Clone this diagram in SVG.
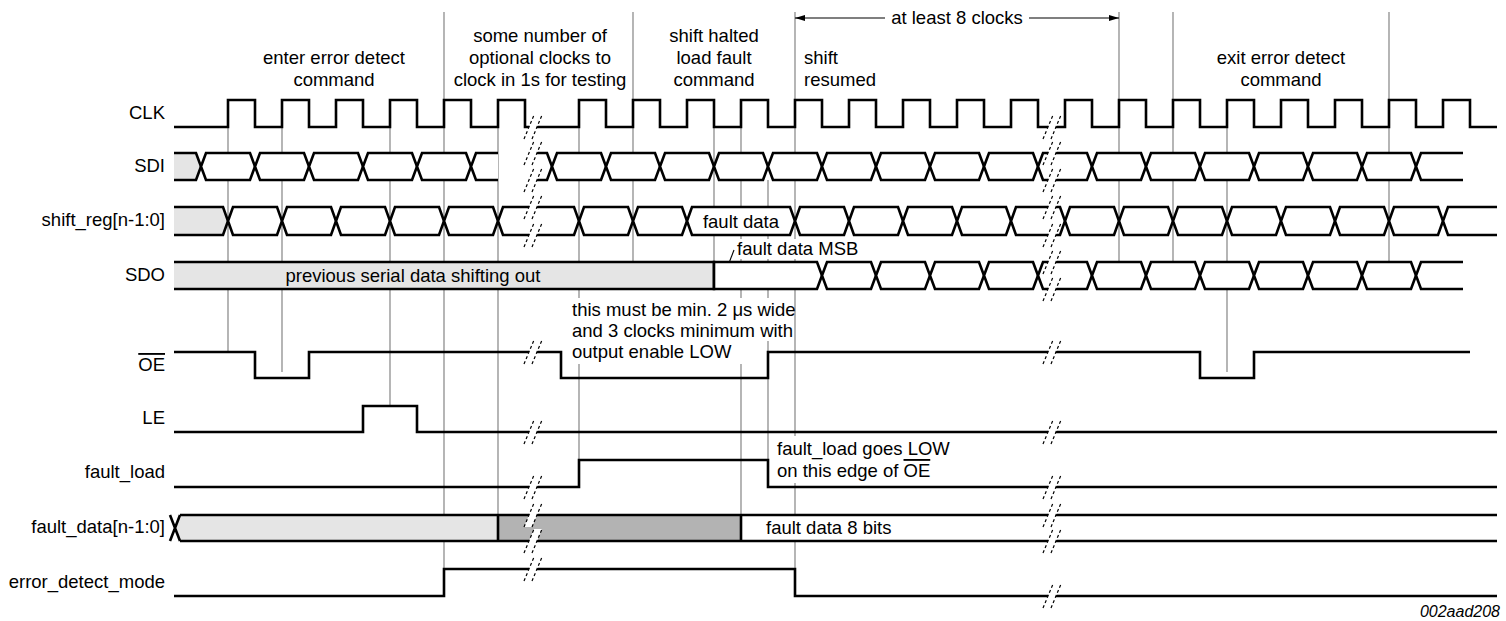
<svg xmlns="http://www.w3.org/2000/svg" width="1506" height="621" viewBox="0 0 1506 621">
<style>
text{font-family:"Liberation Sans",Arial,sans-serif;font-size:18.5px;fill:#000}
.lbl{text-anchor:end}
.mid{text-anchor:middle}
.w{fill:none;stroke:#000;stroke-width:2.6;stroke-linejoin:miter}
.hx{fill:#fff;stroke:#000;stroke-width:2.6}
.gr{fill:#e5e5e5;stroke:#000;stroke-width:2.6}
.g{stroke:#7a7a7a;stroke-width:1.1;fill:none}
.dash{stroke:#000;stroke-width:1.2;stroke-dasharray:3 2.5;fill:none}
.bg{fill:#fff}
</style>
<defs>
<g id="brk">
<polygon points="-9,12 -1,12 9,-12 1,-12" fill="#fff"/>
<line x1="-9" y1="12" x2="1" y2="-12" class="dash"/>
<line x1="-1" y1="12" x2="9" y2="-12" class="dash"/>
</g>
<marker id="ah" viewBox="0 0 10 6" refX="10" refY="3" markerWidth="10" markerHeight="6" markerUnits="userSpaceOnUse" orient="auto">
<path d="M0,0 L10,3 L0,6 Z" fill="#000"/>
</marker>
</defs>

<g id="connectors">
<path class="g" d="M228,127V352 M282,127V372 M390,127V406 M444,12V569 M498,127V515 M579,127V460 M633,12V262 M714,127V289 M741,127V515 M768,180V460 M795,12V596 M1119,12V262 M1173,12V262 M1227,127V372 M1389,12V262"/>
<path d="M885,18H795" stroke="#000" stroke-width="1.2" marker-end="url(#ah)"/>
<path d="M1029,18H1119" stroke="#000" stroke-width="1.2" marker-end="url(#ah)"/>
<path d="M734,250L724,276" stroke="#000" stroke-width="1.1"/>
</g>

<g id="sig-CLK">
<text class="lbl" x="165" y="119">CLK</text>
<path class="w" d="M174,127H228V100H255V127H282V100H309V127H336V100H363V127H390V100H417V127H444V100H471V127H498V100H525V127H579V100H606V127H633V100H660V127H687V100H714V127H741V100H768V127H795V100H822V127H849V100H876V127H903V100H930V127H957V100H984V127H1011V100H1038V127H1065V100H1092V127H1119V100H1146V127H1173V100H1200V127H1227V100H1254V127H1281V100H1308V127H1335V100H1362V127H1389V100H1416V127H1443V100H1470V127H1497"/>
</g>

<g id="sig-SDI">
<text class="lbl" x="165" y="172">SDI</text>
<path class="gr" d="M174,153H196L201,166.5L196,180H174"/>
<polygon class="hx" points="201,166.5 206,153 250,153 255,166.5 250,180 206,180"/>
<polygon class="hx" points="255,166.5 260,153 304,153 309,166.5 304,180 260,180"/>
<polygon class="hx" points="309,166.5 314,153 358,153 363,166.5 358,180 314,180"/>
<polygon class="hx" points="363,166.5 368,153 412,153 417,166.5 412,180 368,180"/>
<polygon class="hx" points="417,166.5 422,153 466,153 471,166.5 466,180 422,180"/>
<path class="hx" d="M498,153H476L471,166.5L476,180H498"/>
<path class="hx" d="M537,153H547L552,166.5L547,180H537"/>
<polygon class="hx" points="552,166.5 557,153 601,153 606,166.5 601,180 557,180"/>
<polygon class="hx" points="606,166.5 611,153 655,153 660,166.5 655,180 611,180"/>
<polygon class="hx" points="660,166.5 665,153 709,153 714,166.5 709,180 665,180"/>
<polygon class="hx" points="714,166.5 719,153 763,153 768,166.5 763,180 719,180"/>
<polygon class="hx" points="768,166.5 773,153 817,153 822,166.5 817,180 773,180"/>
<polygon class="hx" points="822,166.5 827,153 871,153 876,166.5 871,180 827,180"/>
<polygon class="hx" points="876,166.5 881,153 925,153 930,166.5 925,180 881,180"/>
<polygon class="hx" points="930,166.5 935,153 979,153 984,166.5 979,180 935,180"/>
<polygon class="hx" points="984,166.5 989,153 1033,153 1038,166.5 1033,180 989,180"/>
<polygon class="hx" points="1038,166.5 1043,153 1087,153 1092,166.5 1087,180 1043,180"/>
<polygon class="hx" points="1092,166.5 1097,153 1141,153 1146,166.5 1141,180 1097,180"/>
<polygon class="hx" points="1146,166.5 1151,153 1195,153 1200,166.5 1195,180 1151,180"/>
<polygon class="hx" points="1200,166.5 1205,153 1249,153 1254,166.5 1249,180 1205,180"/>
<polygon class="hx" points="1254,166.5 1259,153 1303,153 1308,166.5 1303,180 1259,180"/>
<polygon class="hx" points="1308,166.5 1313,153 1357,153 1362,166.5 1357,180 1313,180"/>
<polygon class="hx" points="1362,166.5 1367,153 1411,153 1416,166.5 1411,180 1367,180"/>
<path class="hx" d="M1463,153H1421L1416,166.5L1421,180H1463"/>
</g>

<g id="sig-shift_reg">
<text class="lbl" x="165" y="226">shift_reg[n-1:0]</text>
<path class="gr" d="M174,207H223L228,221L223,235H174"/>
<polygon class="hx" points="228,221 233,207 277,207 282,221 277,235 233,235"/>
<polygon class="hx" points="282,221 287,207 331,207 336,221 331,235 287,235"/>
<polygon class="hx" points="336,221 341,207 385,207 390,221 385,235 341,235"/>
<polygon class="hx" points="390,221 395,207 439,207 444,221 439,235 395,235"/>
<polygon class="hx" points="444,221 449,207 493,207 498,221 493,235 449,235"/>
<polygon class="hx" points="498,221 503,207 574,207 579,221 574,235 503,235"/>
<polygon class="hx" points="579,221 584,207 628,207 633,221 628,235 584,235"/>
<polygon class="hx" points="633,221 638,207 682,207 687,221 682,235 638,235"/>
<polygon class="hx" points="687,221 692,207 790,207 795,221 790,235 692,235"/>
<polygon class="hx" points="795,221 800,207 844,207 849,221 844,235 800,235"/>
<polygon class="hx" points="849,221 854,207 898,207 903,221 898,235 854,235"/>
<polygon class="hx" points="903,221 908,207 952,207 957,221 952,235 908,235"/>
<polygon class="hx" points="957,221 962,207 1006,207 1011,221 1006,235 962,235"/>
<polygon class="hx" points="1011,221 1016,207 1060,207 1065,221 1060,235 1016,235"/>
<polygon class="hx" points="1065,221 1070,207 1114,207 1119,221 1114,235 1070,235"/>
<polygon class="hx" points="1119,221 1124,207 1168,207 1173,221 1168,235 1124,235"/>
<polygon class="hx" points="1173,221 1178,207 1222,207 1227,221 1222,235 1178,235"/>
<polygon class="hx" points="1227,221 1232,207 1276,207 1281,221 1276,235 1232,235"/>
<polygon class="hx" points="1281,221 1286,207 1330,207 1335,221 1330,235 1286,235"/>
<polygon class="hx" points="1335,221 1340,207 1384,207 1389,221 1384,235 1340,235"/>
<polygon class="hx" points="1389,221 1394,207 1438,207 1443,221 1438,235 1394,235"/>
<path class="hx" d="M1497,207H1448L1443,221L1448,235H1497"/>
<text class="mid" x="741" y="228">fault data</text>
</g>

<g id="sig-SDO">
<text class="lbl" x="165" y="281">SDO</text>
<path class="gr" d="M174,262H714V289H174"/>
<path class="hx" d="M714,262H817L822,275.5L817,289H714Z"/>
<polygon class="hx" points="822,275.5 827,262 871,262 876,275.5 871,289 827,289"/>
<polygon class="hx" points="876,275.5 881,262 925,262 930,275.5 925,289 881,289"/>
<polygon class="hx" points="930,275.5 935,262 979,262 984,275.5 979,289 935,289"/>
<polygon class="hx" points="984,275.5 989,262 1033,262 1038,275.5 1033,289 989,289"/>
<polygon class="hx" points="1038,275.5 1043,262 1087,262 1092,275.5 1087,289 1043,289"/>
<polygon class="hx" points="1092,275.5 1097,262 1141,262 1146,275.5 1141,289 1097,289"/>
<polygon class="hx" points="1146,275.5 1151,262 1195,262 1200,275.5 1195,289 1151,289"/>
<polygon class="hx" points="1200,275.5 1205,262 1249,262 1254,275.5 1249,289 1205,289"/>
<polygon class="hx" points="1254,275.5 1259,262 1303,262 1308,275.5 1303,289 1259,289"/>
<polygon class="hx" points="1308,275.5 1313,262 1357,262 1362,275.5 1357,289 1313,289"/>
<polygon class="hx" points="1362,275.5 1367,262 1411,262 1416,275.5 1411,289 1367,289"/>
<path class="hx" d="M1463,262H1421L1416,275.5L1421,289H1463"/>
<text class="mid" x="413" y="282">previous serial data shifting out</text>
</g>

<g id="note-msb">
<rect class="bg" x="736" y="239" width="112" height="20"/>
<text x="737" y="255">fault data MSB</text>
</g>

<g id="sig-OE">
<text class="lbl" x="165" y="371" style="text-decoration:overline">OE</text>
<path class="w" d="M174,352H255V378H309V352H561V378H768V352H1200V378H1254V352H1470"/>
</g>

<g id="sig-LE">
<text class="lbl" x="165" y="424">LE</text>
<path class="w" d="M174,432H363V406H417V432H1497"/>
</g>

<g id="sig-fault_load">
<text class="lbl" x="165" y="478">fault_load</text>
<path class="w" d="M174,487H579V460H768V487H1497"/>
</g>

<g id="sig-fault_data">
<text class="lbl" x="165" y="533">fault_data[n-1:0]</text>
<polygon points="175,528 180,515 498,515 498,541 180,541" fill="#e5e5e5"/>
<rect x="498" y="515" width="243" height="26" fill="#b3b3b3"/>
<rect x="741" y="515" width="756" height="26" fill="#fff"/>
<path class="w" d="M170,515L180,541M170,541L180,515M180,515H1497M180,541H1497M498,515V541M741,515V541"/>
<text x="766" y="534">fault data 8 bits</text>
</g>

<g id="sig-error_detect_mode">
<text class="lbl" x="165" y="588">error_detect_mode</text>
<path class="w" d="M174,596H444V569H795V596H1497"/>
</g>

<g id="note-min">
<rect class="bg" x="570" y="298" width="224" height="22"/>
<rect class="bg" x="570" y="319" width="224" height="22"/>
<rect class="bg" x="570" y="340" width="176" height="24"/>
<text x="572" y="316">this must be min. 2 μs wide</text>
<text x="572" y="337">and 3 clocks minimum with</text>
<text x="572" y="358">output enable LOW</text>
</g>

<g id="note-fl">
<rect class="bg" x="775" y="436" width="160" height="47"/>
<text x="777" y="455">fault_load goes LOW</text>
<text x="777" y="477">on this edge of <tspan style="text-decoration:overline">OE</tspan></text>
</g>

<g id="top-labels">
<text class="mid" x="334" y="64">enter error detect</text>
<text class="mid" x="334" y="86">command</text>
<text class="mid" x="540" y="42">some number of</text>
<text class="mid" x="540" y="64">optional clocks to</text>
<text class="mid" x="540" y="86">clock in 1s for testing</text>
<text class="mid" x="714" y="42">shift halted</text>
<text class="mid" x="714" y="64">load fault</text>
<text class="mid" x="714" y="86">command</text>
<text x="804" y="64">shift</text>
<text x="804" y="86">resumed</text>
<text class="mid" x="957" y="24">at least 8 clocks</text>
<text class="mid" x="1281" y="64">exit error detect</text>
<text class="mid" x="1281" y="86">command</text>
</g>

<g id="breaks">
<use href="#brk" x="533" y="127"/>
<use href="#brk" x="533" y="153"/>
<use href="#brk" x="533" y="180"/>
<use href="#brk" x="533" y="207"/>
<use href="#brk" x="533" y="235"/>
<use href="#brk" x="533" y="352"/>
<use href="#brk" x="533" y="432"/>
<use href="#brk" x="533" y="487"/>
<use href="#brk" x="533" y="515"/>
<use href="#brk" x="533" y="541"/>
<use href="#brk" x="533" y="569"/>
<use href="#brk" x="1052" y="127"/>
<use href="#brk" x="1052" y="153"/>
<use href="#brk" x="1052" y="180"/>
<use href="#brk" x="1052" y="207"/>
<use href="#brk" x="1052" y="235"/>
<use href="#brk" x="1052" y="262"/>
<use href="#brk" x="1052" y="289"/>
<use href="#brk" x="1052" y="352"/>
<use href="#brk" x="1052" y="432"/>
<use href="#brk" x="1052" y="487"/>
<use href="#brk" x="1052" y="515"/>
<use href="#brk" x="1052" y="541"/>
<use href="#brk" x="1052" y="596"/>
</g>

<text x="1500" y="617" style="font-size:16px;font-style:italic;text-anchor:end">002aad208</text>
</svg>
